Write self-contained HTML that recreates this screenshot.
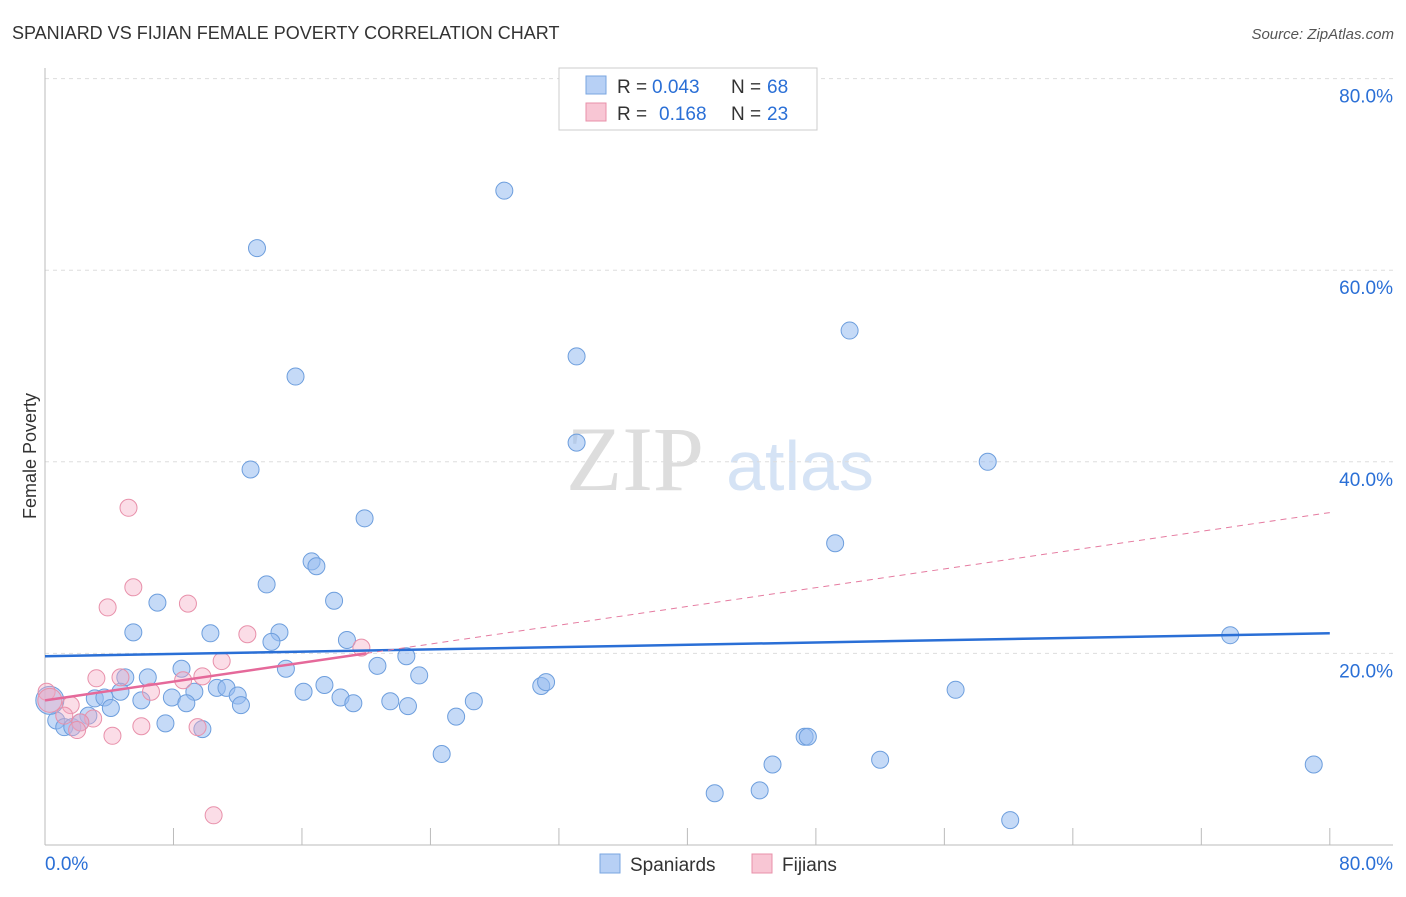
<!DOCTYPE html>
<html><head><meta charset="utf-8"><style>
body{margin:0;background:#fff;font-family:"Liberation Sans",sans-serif;}
svg text{font-family:"Liberation Sans",sans-serif;}
</style></head><body>
<svg id="c" width="1406" height="892">
<text x="12" y="39" font-size="18" fill="#333">SPANIARD VS FIJIAN FEMALE POVERTY CORRELATION CHART</text>
<text x="1394" y="39" font-size="15" fill="#555" text-anchor="end" font-style="italic">Source: ZipAtlas.com</text>
<text x="36" y="456" font-size="18" fill="#333" text-anchor="middle" transform="rotate(-90 36 456)">Female Poverty</text>
<g><text x="635" y="490" font-size="92" fill="#ddd" style="font-family:'Liberation Serif',serif" text-anchor="middle">ZIP</text><text x="800" y="490" font-size="70" fill="#d5e3f5" text-anchor="middle">atlas</text></g>
<g id="grid"></g><g id="marks"></g>
<g>
<rect x="559" y="68" width="258" height="62" fill="#fff" stroke="#ccc"/>
<rect x="586" y="76" width="20" height="18" fill="#b7d0f5" stroke="#7aa6e0"/>
<rect x="586" y="103" width="20" height="18" fill="#f8c6d4" stroke="#e890aa"/>
<text x="617" y="93" font-size="19" fill="#333">R =</text><text x="652" y="93" font-size="19" fill="#2a6fd6">0.043</text>
<text x="731" y="93" font-size="19" fill="#333">N =</text><text x="767" y="93" font-size="19" fill="#2a6fd6">68</text>
<text x="617" y="120" font-size="19" fill="#333">R =</text><text x="659" y="120" font-size="19" fill="#2a6fd6">0.168</text>
<text x="731" y="120" font-size="19" fill="#333">N =</text><text x="767" y="120" font-size="19" fill="#2a6fd6">23</text>
</g>
<g>
<rect x="600" y="854" width="20" height="19" fill="#b7d0f5" stroke="#7aa6e0"/><text x="630" y="871" font-size="19" fill="#333">Spaniards</text>
<rect x="752" y="854" width="20" height="19" fill="#f8c6d4" stroke="#e890aa"/><text x="782" y="871" font-size="19" fill="#333">Fijians</text>
</g>
</svg>
<script>
const blueX=[28.6,13.2,15.6,33.1,50.1,33.1,12.8,58.7,19.9,49.2,16.6,16.9,13.8,18.0,7.0,5.5,10.3,14.6,14.1,18.8,22.5,73.8,8.5,15.0,20.7,23.3,5.0,6.4,10.7,11.3,9.3,4.7,3.1,3.7,6.0,7.9,8.8,12.0,12.2,16.1,17.4,18.4,19.2,21.5,22.6,26.7,30.9,31.2,56.7,4.1,2.7,0.7,1.2,1.7,2.2,7.5,9.8,25.6,24.7,47.3,47.5,45.3,52.0,79.0,41.7,44.5,60.1,0.3];
const blueY=[68.3,62.3,48.9,51.0,53.7,42.0,39.2,40.0,34.1,31.5,29.6,29.1,27.2,25.5,25.3,22.2,22.1,22.2,21.2,21.4,19.7,21.9,18.4,18.4,18.7,17.7,17.5,17.5,16.4,16.4,16.0,16.0,15.3,15.4,15.1,15.4,14.8,15.6,14.6,16.0,16.7,15.4,14.8,15.0,14.5,15.0,16.6,17.0,16.2,14.3,13.5,13.0,12.3,12.3,12.8,12.7,12.1,13.4,9.5,11.3,11.3,8.4,8.9,8.4,5.4,5.7,2.6,15.1];
const pinkX=[5.2,5.5,3.9,8.9,12.6,19.7,11.0,3.2,4.7,9.8,8.6,6.6,0.1,1.6,1.2,3.0,2.2,2.0,4.2,6.0,9.5,10.5,0.3];
const pinkY=[35.2,26.9,24.8,25.2,22.0,20.6,19.2,17.4,17.5,17.6,17.2,16.0,16.0,14.6,13.5,13.2,12.8,12.0,11.4,12.4,12.3,3.1,15.1];
const yTicks=[20,40,60,80];
const xTicks=[0,8,16,24,32,40,48,56,64,72,80];
const blueFit=[19.7,22.1];
const pinkFit=[15.1,34.7];
const X=v=>45+v*16.06, Y=v=>845-v*9.58;
const NS="http://www.w3.org/2000/svg";
function mk(t,a,p){const e=document.createElementNS(NS,t);for(const k in a)e.setAttribute(k,a[k]);p.appendChild(e);return e;}
const g=document.getElementById('grid'), m=document.getElementById('marks');
yTicks.forEach(v=>{
 const l=mk('line',{x1:45,x2:1393,y1:Y(v),y2:Y(v),stroke:'#ddd','stroke-dasharray':'4,4'},g);
 
 
 const t=mk('text',{x:1393,y:Y(v)+24,'font-size':19,fill:'#2a6fd6','text-anchor':'end'},g);t.textContent=v.toFixed(1)+'%';
 
 
});
mk('line',{x1:45,x2:45,y1:68,y2:845,stroke:'#bbb'},g);
mk('line',{x1:45,x2:1393,y1:845,y2:845,stroke:'#bbb'},g);
xTicks.forEach(v=>{const l=mk('line',{x1:X(v),x2:X(v),y1:828,y2:845,stroke:'#bbb'},g);
 
 });
const t0=mk('text',{x:45,y:870,'font-size':19,fill:'#2a6fd6'},g);t0.textContent='0.0%';


const t1=mk('text',{x:1393,y:870,'font-size':19,fill:'#2a6fd6','text-anchor':'end'},g);t1.textContent='80.0%';


blueX.forEach((x,i)=>{const c=mk('circle',{cx:X(x),cy:Y(blueY[i]),r:i==blueX.length-1?14:8.5,fill:'rgba(150,188,240,0.55)',stroke:'#6d9edd','stroke-width':1},m);
 
 });
pinkX.forEach((x,i)=>{const c=mk('circle',{cx:X(x),cy:Y(pinkY[i]),r:i==pinkX.length-1?12:8.5,fill:'rgba(245,170,195,0.4)',stroke:'#e890aa','stroke-width':1},m);
 
 });
const bl=mk('line',{x1:X(0),y1:Y(blueFit[0]),x2:X(80),y2:Y(blueFit[1]),stroke:'#2a6fd6','stroke-width':2.5},m);


const pf=x=>pinkFit[0]+(pinkFit[1]-pinkFit[0])*x/80;
const pd=mk('line',{x1:X(20),y1:Y(pf(20)),x2:X(80),y2:Y(pf(80)),stroke:'#e57ba0','stroke-width':1,'stroke-dasharray':'6,5'},m);


const ps=mk('line',{x1:X(0),y1:Y(pf(0)),x2:X(20),y2:Y(pf(20)),stroke:'#e5699a','stroke-width':2.5},m);


</script>
</body></html>
